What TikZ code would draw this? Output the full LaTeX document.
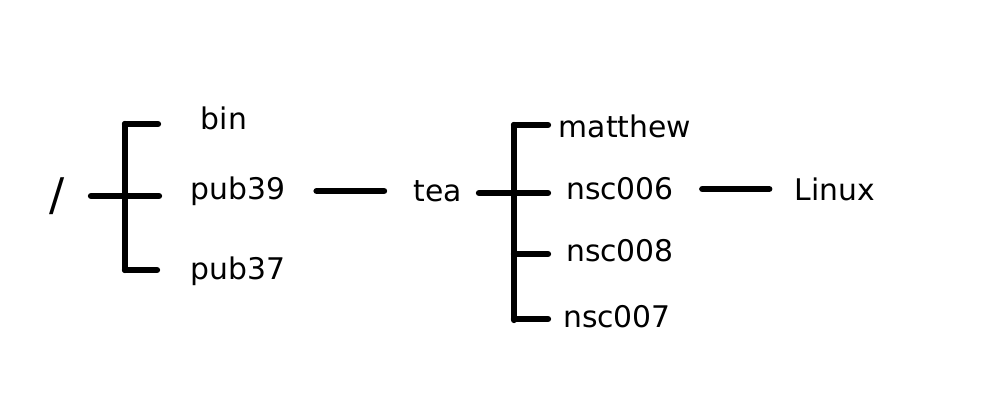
\documentclass[tikz,border=0pt]{standalone}
\usepackage{fontspec}
\setmainfont{DejaVu Sans}
\tikzset{
    dir/.style = {font = {\fontsize{21.2}{24}\selectfont}, black, inner sep=0pt},
    branch/.style = {line width=4.5pt, line cap=round, black},
}

\begin{document}
\begin{tikzpicture}[x=0.025cm, y=-0.025cm]
        \useasboundingbox (0, 0) rectangle (1000, 400);
        % root
        \node[font = {\fontsize{32}{36}\selectfont}, inner sep=0pt] (root) at (57, 196) {/};
        \node[dir] (bin) at (224, 118) {bin};
        \node[dir] (pub39) at (238, 191) {pub39};
        \node[dir] (pub37) at (238, 271) {pub37};
        \coordinate (rtop) at (125, 124);
        \coordinate (rbot) at (125, 270);
        \coordinate (rin) at (91, 196);
        \draw[branch] (rtop) -- (rbot);
        \draw[branch] (rin) -- (159, 196);
        \draw[branch] (rtop) -- (158, 124);
        \draw[branch] (rbot) -- (157, 270);
        % tea
        \node[dir] (tea) at (438, 191) {tea};
        \draw[branch, shorten <= 22pt, shorten >= 21pt] (pub39.east) -- (tea.west);
        \node[dir] (matthew) at (625, 126) {matthew};
        \node[dir] (nsc006) at (620, 189) {nsc006};
        \node[dir] (nsc008) at (620, 251) {nsc008};
        \node[dir] (nsc007) at (617, 317) {nsc007};
        \coordinate (ttop) at (514, 125);
        \coordinate (tbot) at (514, 320);
        \coordinate (tin) at (479, 193);
        \draw[branch] (ttop) -- (tbot);
        \draw[branch] (tin) -- (548, 193);
        \draw[branch] (ttop) -- (548, 125);
        \draw[branch] (514, 254) -- (548, 254);
        \draw[branch] (514, 319) -- (548, 319);
        % Linux
        \node[dir] (linux) at (835, 189) {Linux};
        \draw[branch, shorten <= 20pt, shorten >= 18pt] (nsc006.east) -- (linux.west);
    \end{tikzpicture}
\end{document}
